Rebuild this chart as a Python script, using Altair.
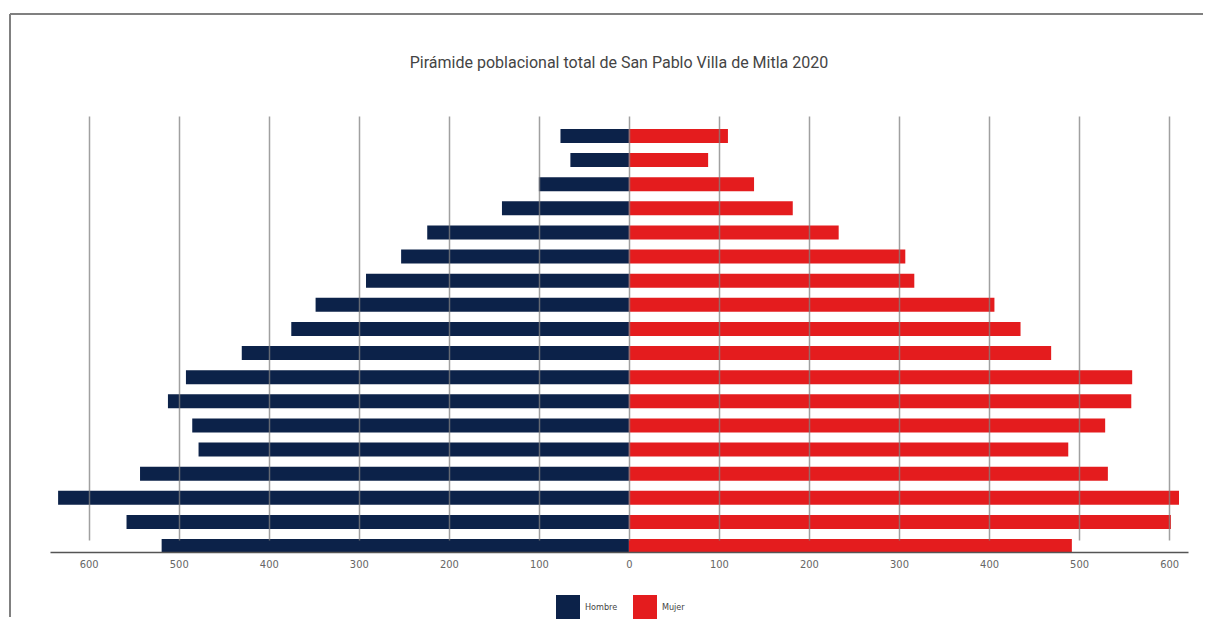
import altair as alt
import pandas as pd

# Age groups, youngest first (bottom of pyramid)
grupos = ["0-4", "5-9", "10-14", "15-19", "20-24", "25-29", "30-34", "35-39",
          "40-44", "45-49", "50-54", "55-59", "60-64", "65-69", "70-74",
          "75-79", "80-84", "85+"]
hombres = [519, 558, 634, 543, 478, 485, 512, 492, 430, 375, 348, 292, 253,
           224, 141, 100, 65, 76]
mujeres = [492, 602, 611, 532, 488, 529, 558, 559, 469, 435, 406, 317, 307,
           233, 182, 139, 88, 110]
tick_vals = [-600, -500, -400, -300, -200, -100, 0, 100, 200, 300, 400, 500, 600]
sexos = ["Hombre", "Mujer"]
colores = ["#0c2249", "#e41c1e"]

rows = []
for g, h, m in zip(grupos, hombres, mujeres):
    rows.append({"grupo": g, "sexo": "Hombre", "valor": -h})
    rows.append({"grupo": g, "sexo": "Mujer", "valor": m})
df = pd.DataFrame(rows)

label_font = "'DejaVu Sans Condensed', 'Liberation Sans Narrow', Roboto, sans-serif"

bars = alt.Chart(df).mark_bar(size=14).encode(
    y=alt.Y("grupo:N", sort=list(reversed(grupos)), axis=None,
            scale=alt.Scale(paddingInner=0.42, paddingOuter=0, range=[12, 436])),
    x=alt.X("valor:Q", title=None,
            scale=alt.Scale(domain=[-643, 621], nice=False, zero=False),
            axis=alt.Axis(values=tick_vals, labelExpr="format(abs(datum.value), 'd')",
                          grid=True, gridColor="#808080", gridOpacity=0.75, gridWidth=1.5,
                          ticks=False, domainColor="#555555", domainWidth=1.5,
                          labelFont=label_font, labelFontSize=11, labelColor="#666666",
                          labelPadding=6, zindex=1)),
    color=alt.Color("sexo:N", scale=alt.Scale(domain=sexos, range=colores),
                    legend=alt.Legend(title=None, orient="none", legendX=506, legendY=478,
                                      direction="horizontal", symbolType="square",
                                      symbolSize=576, symbolStrokeWidth=0,
                                      symbolOpacity=1, labelFont=label_font,
                                      labelFontSize=9, labelColor="#444444",
                                      labelOffset=5, columnPadding=15)),
)

frame_df = pd.DataFrame({"k": [0]})
frame_top = alt.Chart(frame_df).mark_rule(color="#808080", strokeWidth=2).encode(
    x=alt.value(-40), x2=alt.value(1160), y=alt.value(-103))
frame_left = alt.Chart(frame_df).mark_rule(color="#808080", strokeWidth=2).encode(
    x=alt.value(-40), y=alt.value(-103), y2=alt.value(500))

chart = alt.layer(frame_top, frame_left, bars).properties(
    width=1138, height=435,
    padding={"left": 42, "top": 109, "right": 15, "bottom": 68},
    autosize=alt.AutoSizeParams(type="none"),
    title=alt.TitleParams("Pirámide poblacional total de San Pablo Villa de Mitla 2020",
                          font="Roboto", fontSize=16, fontWeight="normal",
                          color="#444444", anchor="middle", offset=-71,
                          baseline="alphabetic", frame="group"),
).configure_view(stroke=None)

chart.save("out.html", embed_options={"renderer": "svg", "actions": False})
